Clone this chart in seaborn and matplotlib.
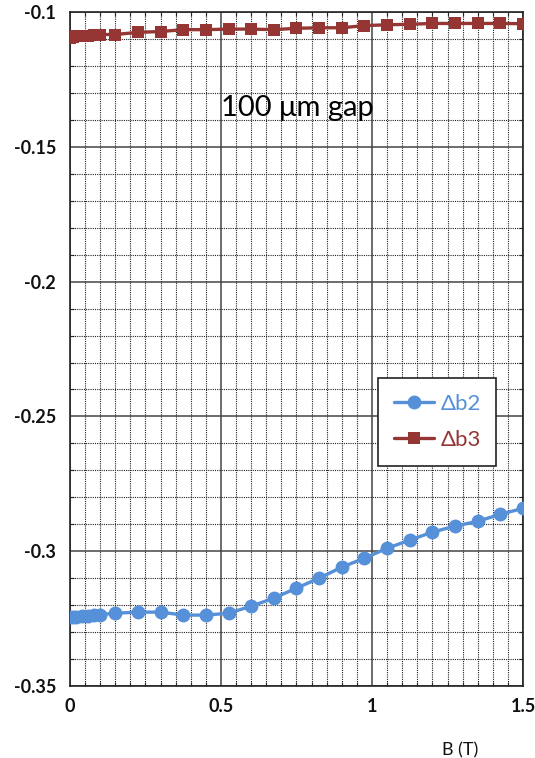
import matplotlib
matplotlib.use("Agg")
import matplotlib.pyplot as plt
from matplotlib.ticker import MultipleLocator, FixedLocator
from matplotlib.lines import Line2D
import seaborn as sns
import pandas as pd

# field values (T)
b_field = [0, 0.01, 0.02, 0.04, 0.06, 0.08, 0.1, 0.15, 0.225, 0.3, 0.375, 0.45, 0.525,
           0.6, 0.675, 0.75, 0.825, 0.9, 0.975, 1.05, 1.125, 1.2, 1.275, 1.35, 1.425, 1.5]
db2 = [-0.3245, -0.3245, -0.3243, -0.3242, -0.3240, -0.3238, -0.3235, -0.3230, -0.3226,
       -0.3226, -0.3237, -0.3237, -0.3230, -0.3204, -0.3174, -0.3137, -0.3100, -0.3059,
       -0.3026, -0.2989, -0.2959, -0.2929, -0.2907, -0.2889, -0.2863, -0.2841]
db3 = [-0.1095, -0.1093, -0.1090, -0.1088, -0.1087, -0.1085, -0.1083, -0.1083, -0.1075,
       -0.1072, -0.1065, -0.1065, -0.1063, -0.1063, -0.1065, -0.1060, -0.1058, -0.1058,
       -0.1050, -0.1047, -0.1045, -0.1042, -0.1042, -0.1042, -0.1042, -0.1043]
series_names = ["\u0394b2", "\u0394b3"]
x_ticks = [0, 0.5, 1, 1.5]
x_tick_labels = ["0", "0.5", "1", "1.5"]
y_ticks = [-0.35, -0.3, -0.25, -0.2, -0.15, -0.1]
y_tick_labels = ["-0.35", "-0.3", "-0.25", "-0.2", "-0.15", "-0.1"]

blue = "#5590D8"
red = "#963634"

sns.set_style("white")
plt.rcParams['font.family'] = ['Lato', 'DejaVu Sans']

df = pd.DataFrame({"B": b_field, "db2": db2, "db3": db3})

fig = plt.figure(figsize=(5.35, 7.58), dpi=100)
ax = fig.add_axes([0.1308, 0.095, 0.8468, 0.889])

sns.lineplot(data=df, x="B", y="db2", ax=ax, color=blue, marker="o", markersize=10,
             markeredgewidth=0, linewidth=2.4, zorder=5)
sns.lineplot(data=df, x="B", y="db3", ax=ax, color=red, marker="s", markersize=9,
             markeredgewidth=0, linewidth=2.4, zorder=5)

ax.set_xlim(0, 1.5)
ax.set_ylim(-0.35, -0.1)
ax.xaxis.set_major_locator(FixedLocator(x_ticks))
ax.yaxis.set_major_locator(FixedLocator(y_ticks))
ax.set_xticklabels(x_tick_labels)
ax.set_yticklabels(y_tick_labels)
ax.xaxis.set_minor_locator(MultipleLocator(0.05))
ax.yaxis.set_minor_locator(MultipleLocator(0.01))

ax.grid(which="major", color="#444444", linestyle="-", linewidth=1.1, zorder=1)
ax.grid(which="minor", color="#222222", linestyle=(0, (1, 1)), linewidth=0.8, zorder=1)
ax.set_axisbelow(True)

ax.tick_params(which="major", length=0, labelsize=13, colors="#111111")
ax.tick_params(axis="y", which="major", pad=10)
ax.tick_params(axis="x", which="major", pad=9)
ax.tick_params(which="minor", direction="in", length=3, width=0.8,
               top=True, right=True, bottom=True, left=True)
for lbl in ax.get_xticklabels() + ax.get_yticklabels():
    lbl.set_fontweight("bold")
for s in ax.spines.values():
    s.set_color("#222222")
    s.set_linewidth(1.2)

ax.set_ylabel("")
ax.set_xlabel("B (T)", fontsize=13, color="#111111")
ax.xaxis.set_label_coords(0.861, -0.083)

ax.text(0.501, 0.858, "100 \u03bcm gap", transform=ax.transAxes, ha="center", va="center",
        fontsize=21, color="#000000", family=['Lato', 'DejaVu Sans'])

handles = [Line2D([], [], color=blue, marker="o", markersize=10, markeredgewidth=0, linewidth=2.4),
           Line2D([], [], color=red, marker="s", markersize=9, markeredgewidth=0, linewidth=2.4)]
leg = ax.legend(handles, series_names, loc="upper left", bbox_to_anchor=(0.68, 0.457),
                prop={"size": 16}, frameon=True, fancybox=False,
                framealpha=1, edgecolor="#222222", handlelength=1.8, labelspacing=0.75,
                borderpad=0.7, handletextpad=0.3, borderaxespad=0)
leg.get_frame().set_linewidth(1.2)
for txt, c in zip(leg.get_texts(), [blue, red]):
    txt.set_color(c)

fig.savefig("out.png", dpi=100)
